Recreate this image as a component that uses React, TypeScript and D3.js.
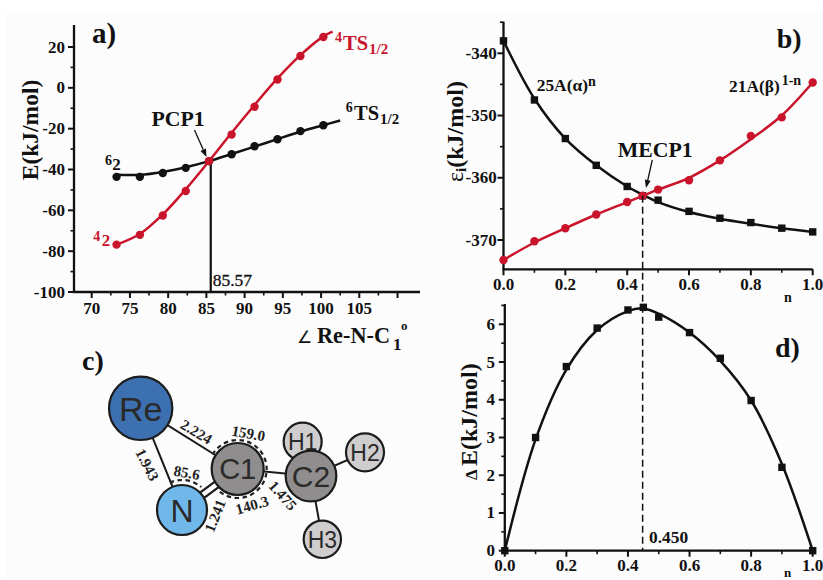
import React from "react";
import * as d3 from "d3";

const RED = "#c9142b";
const INK = "#111";
const SERIF = "'Liberation Serif', serif";
const SANS = "'Liberation Sans', sans-serif";

// Panel a
const angle = [73.25, 76.3, 79.3, 82.3, 85.35, 88.3, 91.3, 94.3, 97.3, 100.3];
const quartet = [-76.8, -72, -62.5, -50.5, -35.9, -22.9, -9.3, 4.1, 15.6, 24.9];
const sextet = [-43.6, -43.6, -41.7, -39.2, -35.9, -32.5, -28.6, -25.2, -21.2, -18.3];
const quartetLineX = [73.25, 76.3, 79.3, 82.3, 85.35, 88.3, 91.3, 94.3, 97.3, 100.3, 101.5];
const quartetLineY = [-76.8, -71.6, -62, -49.7, -35.9, -22, -8.4, 4.6, 16, 25.2, 27.5];
const sextetLineX = [73.25, 76.3, 79.3, 82.3, 85.35, 88.3, 91.3, 94.3, 97.3, 100.3, 102.5];
const sextetLineY = [-42.6, -42.6, -41.2, -38.9, -35.9, -32.4, -28.8, -25.1, -21.5, -18.3, -16];
const aXTicks = [70, 75, 80, 85, 90, 95, 100, 105];
const aYTicks = [20, 0, -20, -40, -60, -80, -100];

// Panel b
const nB = [0, 0.1, 0.2, 0.3, 0.4, 0.45, 0.5, 0.6, 0.7, 0.8, 0.9, 1];
const alpha = [-338, -347.5, -353.7, -358, -361.4, -362.9, -363.6, -365.4, -366.5, -367.2, -368.1, -368.7];
const beta = [-373.2, -370.2, -368.1, -365.9, -363.9, -362.9, -361.9, -360.4, -357.2, -353.3, -350.3, -344.7];
const alphaLine = [-338, -347.3, -353.7, -358, -361.4, -362.7, -363.9, -365.5, -366.6, -367.4, -368.1, -368.7];
const betaLine = [-373.2, -370.4, -368.1, -365.9, -363.9, -362.9, -361.9, -360, -357.2, -353.8, -350, -344.7];
const bXTicks = [0, 0.2, 0.4, 0.6, 0.8, 1];
const bYTicks = [-340, -350, -360, -370];

// Panel d
const gap = [0, 3.0, 4.88, 5.9, 6.38, 6.45, 6.19, 5.78, 5.1, 3.98, 2.21, 0];
const gapLine = [0, 2.95, 4.8, 5.85, 6.35, 6.42, 6.28, 5.78, 5.03, 3.98, 2.3, 0];
const dYTicks = [0, 1, 2, 3, 4, 5, 6];

// Panel c (diagram units are zoomed reference units)
const atoms = [
  { id: "H1", x: 698, y: 305, r: 57, fill: "#cfcdcd", size: 23 },
  { id: "H2", x: 885, y: 337, r: 57, fill: "#cfcdcd", size: 23 },
  { id: "H3", x: 757, y: 598, r: 56, fill: "#cfcdcd", size: 23 },
  { id: "Re", x: 212, y: 205, r: 95, fill: "#3c70b0", size: 34 },
  { id: "N", x: 336, y: 510, r: 75, fill: "#70b8ea", size: 32 },
  { id: "C1", x: 503, y: 387, r: 78, fill: "#8f8d8d", size: 29 },
  { id: "C2", x: 723, y: 408, r: 76, fill: "#8f8d8d", size: 30 },
];
const bonds = [["Re", "N"], ["Re", "C1"], ["C1", "C2"], ["C2", "H1"], ["C2", "H2"], ["C2", "H3"]];
const geomLabels = [
  { t: "2.224", x: 378, y: 277, a: 31 },
  { t: "159.0", x: 535, y: 282, a: 10 },
  { t: "1.943", x: 230, y: 375, a: 63 },
  { t: "85.6", x: 350, y: 400, a: 10 },
  { t: "1.241", x: 437, y: 528, a: -68 },
  { t: "140.3", x: 547, y: 497, a: -16 },
  { t: "1.475", x: 637, y: 468, a: 48 },
];

const xA = d3.scaleLinear().domain([70, 105]).range([91.7, 359.3]);
const yA = d3.scaleLinear().domain([20, -100]).range([47, 292]);
const xB = d3.scaleLinear().domain([0, 1]).range([503.5, 812.7]);
const yB = d3.scaleLinear().domain([-340, -370]).range([53.3, 240]);
const xD = d3.scaleLinear().domain([0, 1]).range([504.8, 812.7]);
const yD = d3.scaleLinear().domain([0, 6]).range([550.7, 324.3]);
const xC = d3.scaleLinear().domain([0, 3]).range([70, 71]);
const yC = d3.scaleLinear().domain([0, 3]).range([340, 341]);
const rC = (v: number) => v / 3;

const curve = d3.curveCatmullRom.alpha(0.5);
const path = (xs: number[], ys: number[], x: any, y: any) =>
  d3.line<number>().x((v) => x(v)).y((_, i) => y(ys[i])).curve(curve)(xs) as string;

const T = ({ x, y, s, w = 700, fill = INK, anchor = "start", rot, children, family = SERIF }: any) => (
  <text x={x} y={y} fontSize={s} fontWeight={w} fill={fill} textAnchor={anchor} fontFamily={family}
    transform={rot !== undefined ? `rotate(${rot} ${x} ${y})` : undefined}>{children}</text>
);

const Arrow = ({ x1, y1, x2, y2 }: any) => {
  const a = Math.atan2(y2 - y1, x2 - x1);
  const h = 8, w = 3;
  const bx = x2 - h * Math.cos(a), by = y2 - h * Math.sin(a);
  const nx = -Math.sin(a) * w, ny = Math.cos(a) * w;
  return (
    <g>
      <line x1={x1} y1={y1} x2={bx} y2={by} stroke={INK} strokeWidth={1.3} />
      <path d={`M${x2},${y2}L${bx + nx},${by + ny}L${bx - nx},${by - ny}Z`} fill={INK} />
    </g>
  );
};

function YAxis({ x, y, ticks, minors, top, bottom, labelX, s = 17 }: any) {
  return (
    <g>
      <line x1={x} x2={x} y1={top} y2={bottom} stroke={INK} strokeWidth={2.3} />
      {minors.map((m: number) => <line key={m} x1={x - 3.5} x2={x} y1={y(m)} y2={y(m)} stroke={INK} strokeWidth={1.6} />)}
      {ticks.map((t: number) => (
        <g key={t}>
          <line x1={x - 6} x2={x} y1={y(t)} y2={y(t)} stroke={INK} strokeWidth={2} />
          <T x={labelX} y={y(t) + 5.5} s={s} anchor="end">{t}</T>
        </g>
      ))}
    </g>
  );
}

function XAxis({ x, y, ticks, minors, left, right, baseline, fmt, s = 17 }: any) {
  return (
    <g>
      <line x1={left} x2={right} y1={y} y2={y} stroke={INK} strokeWidth={2.3} />
      {minors.map((m: number) => <line key={m} x1={x(m)} x2={x(m)} y1={y} y2={y + 3.5} stroke={INK} strokeWidth={1.6} />)}
      {ticks.map((t: number) => (
        <g key={t}>
          <line x1={x(t)} x2={x(t)} y1={y} y2={y + 6} stroke={INK} strokeWidth={2} />
          <T x={x(t)} y={baseline} s={s} anchor="middle">{fmt(t)}</T>
        </g>
      ))}
    </g>
  );
}

const Circles = ({ xs, ys, x, y, color, r = 4.2 }: any) => (
  <g>{xs.map((v: number, i: number) => <circle key={i} cx={x(v)} cy={y(ys[i])} r={r} fill={color} />)}</g>
);
const Squares = ({ xs, ys, x, y, color = INK, a = 7.4 }: any) => (
  <g>{xs.map((v: number, i: number) => <rect key={i} x={x(v) - a / 2} y={y(ys[i]) - a / 2} width={a} height={a} fill={color} />)}</g>
);

function Molecule() {
  const at = (id: string) => atoms.find((a) => a.id === id)!;
  const px = (a: any) => ({ x: xC(a.x), y: yC(a.y) });
  const c1 = px(at("C1"));
  const n = px(at("N"));
  const deg = Math.PI / 180;
  const arc = (r: number, a0: number, a1: number) => {
    const p = d3.path();
    p.arc(0, 0, r, (a0 - 90) * deg, (a1 - 90) * deg);
    return p.toString();
  };
  const dx = c1.x - n.x, dy = c1.y - n.y, len = Math.hypot(dx, dy);
  const ox = (-dy / len) * 3.4, oy = (dx / len) * 3.4;
  const dashed = { fill: "none", stroke: "#222", strokeWidth: 2.2, strokeDasharray: "4.5 3.5" };
  return (
    <g>
      {bonds.map(([a, b]) => {
        const p = px(at(a)), q = px(at(b));
        return <line key={a + b} x1={p.x} y1={p.y} x2={q.x} y2={q.y} stroke="#1a1a1a" strokeWidth={2} />;
      })}
      {[1, -1].map((k) => (
        <line key={k} x1={n.x + k * ox} y1={n.y + k * oy} x2={c1.x + k * ox} y2={c1.y + k * oy} stroke="#1a1a1a" strokeWidth={2.2} />
      ))}
      <path transform={`translate(${c1.x},${c1.y})`} d={arc(29, -60, 92)} {...dashed} />
      <path transform={`translate(${c1.x},${c1.y})`} d={arc(29, 98, 222)} {...dashed} />
      <path transform={`translate(${n.x},${n.y})`} d={arc(30, -24, 40)} {...dashed} />
      {atoms.map((a) => (
        <g key={a.id}>
          <circle cx={xC(a.x)} cy={yC(a.y)} r={rC(a.r)} fill={a.fill} stroke="#1c1c1c" strokeWidth={2.2} />
          <text x={xC(a.x)} y={yC(a.y) + a.size * 0.36} textAnchor="middle" fontFamily={SANS}
            fontSize={a.size} fill="#2a2a2a">{a.id}</text>
        </g>
      ))}
      {geomLabels.map((l) => (
        <text key={l.t} transform={`translate(${xC(l.x)},${yC(l.y)}) rotate(${l.a})`} textAnchor="middle" dy={4.5}
          fontFamily={SERIF} fontWeight={700} fontSize={15} fill="#222">{l.t}</text>
      ))}
    </g>
  );
}

export default function App() {
  return (
    <svg width={823} height={580} style={{ position: "absolute", left: 0, top: 0, background: "#fff" }}>
      <rect x={6} y={11} width={817} height={569} fill="#fcfcfc" />

      {/* a */}
      <YAxis x={74} y={yA} ticks={aYTicks} minors={d3.range(-90, 30, 20)} top={25} bottom={292} labelX={65} />
      <XAxis x={xA} y={292} ticks={aXTicks} minors={d3.range(72.5, 110, 5)} left={73} right={420} baseline={314} fmt={(t: number) => t} />
      <line x1={xA(110)} x2={xA(110)} y1={292} y2={298} stroke={INK} strokeWidth={2} />
      <line x1={xA(85.57)} x2={xA(85.57)} y1={yA(-35.9)} y2={292} stroke={INK} strokeWidth={2.2} />
      <path d={path(sextetLineX, sextetLineY, xA, yA)} fill="none" stroke={INK} strokeWidth={2.5} />
      <Circles xs={angle} ys={sextet} x={xA} y={yA} color={INK} />
      <path d={path(quartetLineX, quartetLineY, xA, yA)} fill="none" stroke={RED} strokeWidth={2.5} />
      <Circles xs={angle} ys={quartet} x={xA} y={yA} color={RED} />
      <Arrow x1={194.5} y1={130} x2={206.5} y2={157} />
      <T x={92} y={43} s={29}>a)</T>
      <T x={151.5} y={126} s={21.8}>PCP1</T>
      <text x={212.7} y={285.7} fontSize={17.5} fontFamily={SERIF} fill={INK} stroke={INK} strokeWidth={0.3}>85.57</text>
      <T x={335} y={42} s={14} fill={RED}>4</T>
      <T x={343} y={50} s={20.5} fill={RED}>TS</T>
      <T x={369} y={54} s={15} fill={RED}>1/2</T>
      <T x={345.7} y={112} s={14}>6</T>
      <T x={354} y={120} s={20.5}>TS</T>
      <T x={380} y={124} s={15}>1/2</T>
      <T x={105} y={165} s={14}>6</T>
      <T x={112.3} y={170} s={17}>2</T>
      <T x={93.3} y={241} s={14} fill={RED}>4</T>
      <T x={101.7} y={246} s={17} fill={RED}>2</T>
      <T x={38} y={130} s={23.5} anchor="middle" rot={-90}>E(kJ/mol)</T>
      <T x={296.5} y={343} s={17} w={400}>∠</T>
      <T x={317} y={343} s={22.3}>Re-N-C</T>
      <T x={393} y={350} s={17}>1</T>
      <T x={401} y={330} s={13}>o</T>

      {/* b */}
      <YAxis x={503.5} y={yB} ticks={bYTicks} minors={[-335, -345, -355, -365]} top={21.7} bottom={269.3} labelX={496.7} />
      <XAxis x={xB} y={269.3} ticks={bXTicks} minors={[0.1, 0.3, 0.5, 0.7, 0.9]} left={502.5} right={812.7} baseline={290} fmt={(t: number) => t.toFixed(1)} />
      <path d={path(nB, alphaLine, xB, yB)} fill="none" stroke={INK} strokeWidth={2.5} />
      <Squares xs={nB} ys={alpha} x={xB} y={yB} />
      <path d={path(nB, betaLine, xB, yB)} fill="none" stroke={RED} strokeWidth={2.5} />
      <Circles xs={nB} ys={beta} x={xB} y={yB} color={RED} />
      <line x1={xB(0.45)} x2={xB(0.45)} y1={yB(-362.9)} y2={yD(0)} stroke={INK} strokeWidth={1.5} strokeDasharray="7 4" />
      <Arrow x1={652.3} y1={160} x2={646} y2={188} />
      <T x={776.7} y={48} s={28}>b)</T>
      <T x={617.7} y={156.7} s={21.8}>MECP1</T>
      <T x={536.7} y={90.7} s={17.4}>25A(α)</T>
      <T x={588} y={86} s={14}>n</T>
      <T x={729} y={91.5} s={17.4}>21A(β)</T>
      <T x={781.7} y={85} s={14}>1-n</T>
      <T x={784} y={301.7} s={14}>n</T>
      <text transform="translate(463,182) rotate(-90)" fontFamily={SERIF} fontWeight={700} fontSize={24} fill={INK}>
        <tspan fontWeight={400}>ε</tspan><tspan fontSize={15} dy={3}>i</tspan><tspan dy={-3}>(kJ/mol)</tspan>
      </text>

      {/* d */}
      <YAxis x={504.8} y={yD} ticks={dYTicks} minors={[0.5, 1.5, 2.5, 3.5, 4.5, 5.5, 6.5]} top={304} bottom={550.7} labelX={495} />
      <XAxis x={xD} y={550.7} ticks={bXTicks} minors={[0.1, 0.3, 0.5, 0.7, 0.9]} left={504} right={812.7} baseline={570.7} fmt={(t: number) => t.toFixed(1)} />
      <path d={path(nB, gapLine, xD, yD)} fill="none" stroke={INK} strokeWidth={2.5} />
      <Squares xs={nB} ys={gap} x={xD} y={yD} />
      <T x={775} y={356.7} s={28}>d)</T>
      <T x={649} y={542.7} s={17.4}>0.450</T>
      <T x={784} y={576.5} s={13}>n</T>
      <text transform="translate(476.5,480) rotate(-90)" fontFamily={SERIF} fontWeight={700} fontSize={24} fill={INK}>
        <tspan fontSize={17}>Δ </tspan>E(kJ/mol)
      </text>

      {/* c */}
      <T x={82} y={370} s={28}>c)</T>
      <Molecule />
    </svg>
  );
}
